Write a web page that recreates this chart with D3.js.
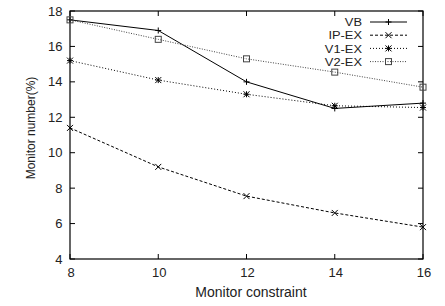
<!DOCTYPE html>
<html>
<head>
<meta charset="utf-8">
<script src="https://cdn.jsdelivr.net/npm/d3@7"></script>
<style>
  body { margin: 0; background: #fff; }
  svg { font-family: "Liberation Sans", Arial, sans-serif; }
</style>
</head>
<body>
<svg id="chart" width="445" height="306" viewBox="0 0 445 306"></svg>
<script>
const constraints = [8, 10, 12, 14, 16];
const vb = [17.5, 16.9, 14.0, 12.5, 12.8];
const ipEx = [11.4, 9.2, 7.55, 6.6, 5.8];
const v1Ex = [15.2, 14.1, 13.3, 12.65, 12.55];
const v2Ex = [17.5, 16.4, 15.3, 14.55, 13.7];
const yTicks = [4, 6, 8, 10, 12, 14, 16, 18];

const series = [
    { name: "VB", values: vb, dash: null, color: "#000", marker: "plus" },
    { name: "IP-EX", values: ipEx, dash: "3,2", color: "#000", marker: "cross" },
    { name: "V1-EX", values: v1Ex, dash: "1,2", color: "#000", marker: "star" },
    { name: "V2-EX", values: v2Ex, dash: "1,1.5", color: "#444", marker: "square" }
];

const svg = d3.select("#chart");
const margin = { left: 70, right: 22, top: 11, bottom: 47 };
const width = 445, height = 306;

const x = d3.scaleLinear().domain([8, 16]).range([margin.left, width - margin.right]);
const y = d3.scaleLinear().domain([4, 18]).range([height - margin.bottom, margin.top]);

const g = svg.append("g");

// ticks on all four sides, pointing inward (gnuplot style)
const tickLen = 5;
constraints.forEach(v => {
    g.append("line").attr("x1", x(v)).attr("x2", x(v))
        .attr("y1", y(4)).attr("y2", y(4) - tickLen).attr("stroke", "#000");
    g.append("line").attr("x1", x(v)).attr("x2", x(v))
        .attr("y1", y(18)).attr("y2", y(18) + tickLen).attr("stroke", "#000");
    g.append("text").attr("x", x(v) + 1).attr("y", y(4) + 17.5)
        .attr("text-anchor", "middle").attr("font-size", 13).attr("fill", "#222").text(v);
});
yTicks.forEach(v => {
    g.append("line").attr("x1", x(8)).attr("x2", x(8) + tickLen)
        .attr("y1", y(v)).attr("y2", y(v)).attr("stroke", "#000");
    g.append("line").attr("x1", x(16)).attr("x2", x(16) - tickLen)
        .attr("y1", y(v)).attr("y2", y(v)).attr("stroke", "#000");
    g.append("text").attr("x", x(8) - 7.5).attr("y", y(v) + 4.5)
        .attr("text-anchor", "end").attr("font-size", 13).attr("fill", "#222").text(v);
});

g.append("rect")
    .attr("x", x(8)).attr("y", y(18))
    .attr("width", x(16) - x(8)).attr("height", y(4) - y(18))
    .attr("fill", "none").attr("stroke", "#000").attr("stroke-width", 1.2);

g.append("text").attr("x", 251).attr("y", 297)
    .attr("text-anchor", "middle").attr("font-size", 14).attr("fill", "#222")
    .text("Monitor constraint");
g.append("text")
    .attr("transform", `translate(34.5,128) rotate(-90)`)
    .attr("text-anchor", "middle").attr("font-size", 12).attr("fill", "#222")
    .text("Monitor number(%)");

function drawMarker(sel, type, cx, cy, color) {
    const s = 3;
    if (type === "plus") {
        sel.append("path").attr("d", `M${cx - s},${cy}H${cx + s}M${cx},${cy - s}V${cy + s}`)
            .attr("stroke", color).attr("fill", "none");
    } else if (type === "cross") {
        sel.append("path").attr("d", `M${cx - s},${cy - s}L${cx + s},${cy + s}M${cx - s},${cy + s}L${cx + s},${cy - s}`)
            .attr("stroke", color).attr("fill", "none");
    } else if (type === "star") {
        sel.append("path").attr("d", `M${cx - s},${cy}H${cx + s}M${cx},${cy - s}V${cy + s}M${cx - s},${cy - s}L${cx + s},${cy + s}M${cx - s},${cy + s}L${cx + s},${cy - s}`)
            .attr("stroke", color).attr("fill", "none");
    } else if (type === "square") {
        sel.append("rect").attr("x", cx - s).attr("y", cy - s).attr("width", 2 * s).attr("height", 2 * s)
            .attr("stroke", color).attr("fill", "none");
    }
}

const line = d3.line().x((d, i) => x(constraints[i])).y(d => y(d));

series.forEach((s, k) => {
    g.append("path").datum(s.values)
        .attr("d", line)
        .attr("fill", "none").attr("stroke", s.color).attr("stroke-width", 1)
        .attr("stroke-dasharray", s.dash);
    s.values.forEach((v, i) => drawMarker(g, s.marker, x(constraints[i]), y(v), s.color));

    // legend (text slightly widened, as in the reference)
    const ly = 22 + k * 13.2;
    g.append("text")
        .attr("transform", `translate(362,${ly + 4.2}) scale(1.12,1)`)
        .attr("text-anchor", "end").attr("font-size", 11.5).attr("fill", "#222").text(s.name);
    g.append("line").attr("x1", 370).attr("x2", 407).attr("y1", ly).attr("y2", ly)
        .attr("stroke", s.color).attr("stroke-dasharray", s.dash);
    drawMarker(g, s.marker, 388.5, ly, s.color);
});
</script>
</body>
</html>
